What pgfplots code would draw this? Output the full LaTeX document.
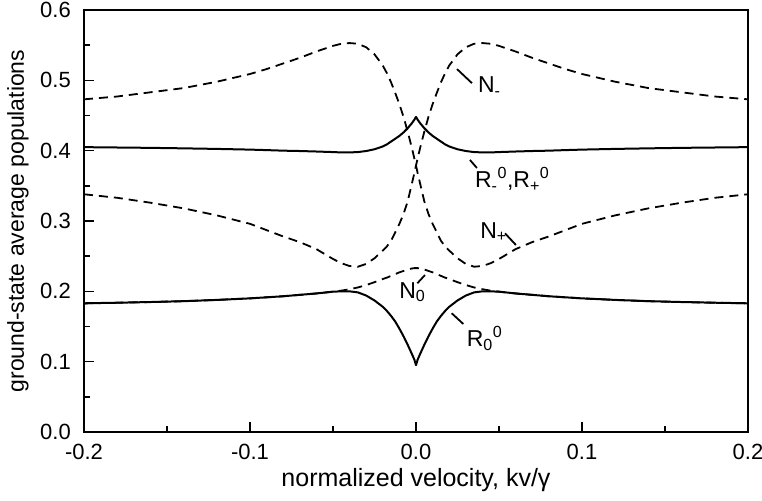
\documentclass[border=0pt]{standalone}
\usepackage{fontspec}
\setmainfont{Liberation Sans}
\usepackage{pgfplots}
\pgfplotsset{compat=1.18}
\usepackage{pgfplotstable}

\pgfplotstableread{
x Np Nm N0 R0 Rpm
-0.2 0.473 0.338 0.1828 0.183 0.405
-0.18 0.477 0.333 0.1838 0.1838 0.4045
-0.16 0.483 0.326 0.1848 0.1848 0.404
-0.14 0.489 0.318 0.186 0.186 0.4033
-0.12 0.498 0.308 0.1878 0.1878 0.4025
-0.1 0.509 0.296 0.190 0.190 0.4015
-0.09 0.516 0.287 0.1915 0.1915 0.4008
-0.08 0.524 0.278 0.193 0.193 0.400
-0.07 0.532 0.270 0.195 0.195 0.3995
-0.06 0.541 0.260 0.197 0.197 0.3988
-0.05 0.549 0.246 0.1995 0.1995 0.398
-0.045 0.552 0.240 0.201 0.200 0.3975
-0.04 0.553 0.236 0.203 0.200 0.3975
-0.035 0.552 0.235 0.2055 0.1985 0.398
-0.03 0.547 0.239 0.209 0.194 0.3995
-0.025 0.537 0.247 0.213 0.187 0.402
-0.02 0.521 0.258 0.2175 0.178 0.406
-0.0175 0.510 0.264 0.2195 0.172 0.409
-0.015 0.497 0.272 0.222 0.165 0.413
-0.0125 0.482 0.284 0.2245 0.157 0.417
-0.01 0.466 0.296 0.227 0.147 0.421
-0.0075 0.448 0.310 0.229 0.136 0.426
-0.005 0.427 0.328 0.231 0.124 0.432
-0.0025 0.404 0.353 0.2325 0.111 0.439
-0.001 0.389 0.368 0.233 0.103 0.444
0 0.379 0.379 0.233 0.095 0.448
0.001 0.368 0.389 0.233 0.103 0.444
0.0025 0.353 0.404 0.2325 0.111 0.439
0.005 0.328 0.427 0.231 0.124 0.432
0.0075 0.310 0.448 0.229 0.136 0.426
0.01 0.296 0.466 0.227 0.147 0.421
0.0125 0.284 0.482 0.2245 0.157 0.417
0.015 0.272 0.497 0.222 0.165 0.413
0.0175 0.264 0.510 0.2195 0.172 0.409
0.02 0.258 0.521 0.2175 0.178 0.406
0.025 0.247 0.537 0.213 0.187 0.402
0.03 0.239 0.547 0.209 0.194 0.3995
0.035 0.235 0.552 0.2055 0.1985 0.398
0.04 0.236 0.553 0.203 0.200 0.3975
0.045 0.240 0.552 0.201 0.200 0.3975
0.05 0.246 0.549 0.1995 0.1995 0.398
0.06 0.260 0.541 0.197 0.197 0.3988
0.07 0.270 0.532 0.195 0.195 0.3995
0.08 0.278 0.524 0.193 0.193 0.400
0.09 0.287 0.516 0.1915 0.1915 0.4008
0.1 0.296 0.509 0.190 0.190 0.4015
0.12 0.308 0.498 0.1878 0.1878 0.4025
0.14 0.318 0.489 0.186 0.186 0.4033
0.16 0.326 0.483 0.1848 0.1848 0.404
0.18 0.333 0.477 0.1838 0.1838 0.4045
0.2 0.338 0.473 0.1828 0.183 0.405
}\data

\begin{document}
\begin{tikzpicture}
\begin{axis}[name=ax, scale only axis, width=664pt, height=422pt,
  xmin=-0.2, xmax=0.2, ymin=0, ymax=0.6,
  xtick={-0.2,-0.1,0,0.1,0.2}, ytick={0,0.1,0.2,0.3,0.4,0.5,0.6},
  minor x tick num=1, minor y tick num=1,
  tick align=inside, xtick pos=left, ytick pos=left,
  major tick length=10pt, minor tick length=6pt,
  every tick/.style={black, line width=1.5pt},
  axis line style={line width=2pt},
  tick label style={font=\fontsize{22}{26}\selectfont},
  /pgf/number format/fixed, /pgf/number format/fixed zerofill,
  /pgf/number format/precision=1, /pgf/number format/assume math mode=true,
  xticklabel style={inner sep=0pt, yshift=-12pt},
  yticklabel style={inner sep=0pt, xshift=-13pt},
  xlabel={normalized velocity, kv/γ},
  ylabel={ground-state average populations},
  xlabel style={font=\fontsize{25}{29}\selectfont, at={(axis description cs:0.5,-0.1137)}, anchor=center},
  ylabel style={font=\fontsize{23}{27}\selectfont, at={(axis description cs:-0.0994,0.5)}, anchor=center},
]
\addplot[black, line width=2pt, line join=round] table[x=x,y=Rpm]{\data};
\addplot[black, line width=2pt, line join=round] table[x=x,y=R0]{\data};
\addplot[black, line width=1.8pt, dash pattern=on 9pt off 6pt] table[x=x,y=Np]{\data};
\addplot[black, line width=1.8pt, dash pattern=on 9pt off 6pt] table[x=x,y=Nm]{\data};
\addplot[black, line width=1.8pt, dash pattern=on 9pt off 6pt] table[x=x,y=N0]{\data};

\begin{scope}[font=\fontsize{23}{27}\selectfont]
\node[anchor=base west, inner sep=0pt] at (axis cs:0.0373,0.482) {N\textsubscript{-}};
\node[anchor=base west, inner sep=0pt] at (axis cs:0.0355,0.347) {R\textsubscript{-}\textsuperscript{0},R\textsubscript{+}\textsuperscript{0}};
\node[anchor=base west, inner sep=0pt] at (axis cs:0.0386,0.2758) {N\textsubscript{+}};
\node[anchor=base west, inner sep=0pt] at (axis cs:-0.0102,0.1905) {N\textsubscript{0}};
\node[anchor=base west, inner sep=0pt] at (axis cs:0.0305,0.1213) {R\textsubscript{0}\textsuperscript{0}};
\end{scope}
\draw[line width=1.8pt] (axis cs:0.0247,0.516) -- (axis cs:0.0337,0.496);
\draw[line width=1.8pt] (axis cs:0.0325,0.3868) -- (axis cs:0.0367,0.3754);
\draw[line width=1.8pt] (axis cs:0.0536,0.2825) -- (axis cs:0.0602,0.2659);
\draw[line width=1.8pt] (axis cs:0.0054,0.2232) -- (axis cs:0.0008,0.2114);
\draw[line width=1.8pt] (axis cs:0.0215,0.1688) -- (axis cs:0.0285,0.1536);
\end{axis}
\pgfresetboundingbox
\path[use as bounding box] ([xshift=-84pt,yshift=-68pt]ax.south west) rectangle ([xshift=14pt,yshift=10pt]ax.north east);
\end{tikzpicture}
\end{document}
